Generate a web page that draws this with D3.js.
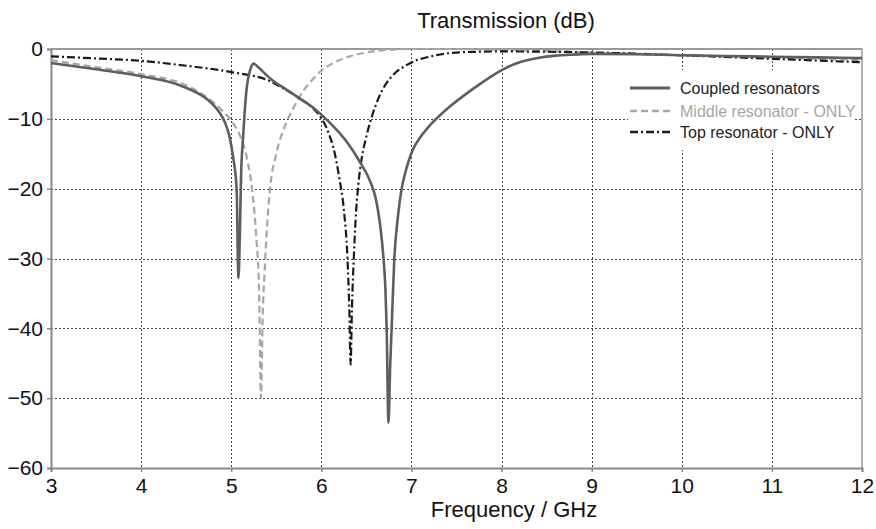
<!DOCTYPE html>
<html>
<head>
<meta charset="utf-8">
<script src="https://cdn.jsdelivr.net/npm/d3@7"></script>
<style>
  body { margin: 0; background: #fff; }
  text { font-family: "Liberation Sans", Arial, sans-serif; }
</style>
</head>
<body>
<div id="chart"></div>
<script>
// data (GHz, dB)
const coupledFreq = [3, 3.5, 4, 4.47, 4.76, 4.86, 4.93, 4.98, 5.02, 5.06, 5.08, 5.095, 5.11, 5.13, 5.17, 5.21, 5.25, 5.3, 5.38, 5.46, 5.6, 5.75, 5.9, 6.0, 6.15, 6.3, 6.42, 6.55, 6.6, 6.63, 6.66, 6.69, 6.71, 6.725, 6.745, 6.765, 6.78, 6.81, 6.85, 6.89, 6.93, 6.97, 7.02, 7.1, 7.2, 7.3, 7.45, 7.6, 7.75, 7.9, 8.05, 8.2, 8.4, 8.6, 8.8, 9, 9.5, 10, 10.5, 11, 11.5, 12];
const coupledDb   = [-2.0, -2.9, -3.9, -5.4, -7.5, -8.9, -10.5, -12.5, -15.4, -20, -32.8, -27, -17.8, -13, -5.8, -3.0, -2.1, -2.6, -3.6, -4.5, -5.7, -7.0, -8.3, -9.4, -11.3, -13.6, -16.0, -19.2, -21.2, -23.2, -26, -30, -34, -40, -53.5, -45, -40, -30, -24, -20.1, -17.8, -16.0, -14.3, -12.6, -11.0, -9.7, -8.0, -6.5, -5.1, -3.8, -2.7, -1.9, -1.3, -0.95, -0.8, -0.7, -0.75, -0.9, -1.0, -1.1, -1.2, -1.3];

const middleFreq = [3, 3.5, 4, 4.5, 4.76, 4.9, 5.02, 5.1, 5.17, 5.23, 5.28, 5.31, 5.33, 5.35, 5.37, 5.4, 5.43, 5.5, 5.61, 5.7, 5.8, 5.9, 6.0, 6.15, 6.3, 6.5, 6.7, 7, 7.5, 8, 8.5, 9, 10, 11, 12];
const middleDb   = [-1.6, -2.6, -3.6, -5.2, -7.2, -8.8, -10.6, -12.5, -15.4, -20, -27.3, -35, -50, -38, -32, -25, -20.1, -15, -10.6, -8.2, -6.0, -4.4, -3.1, -1.9, -1.1, -0.5, -0.15, 0, 0, -0.1, -0.3, -0.5, -0.9, -1.2, -1.6];

const topFreq = [3, 3.5, 4, 4.5, 5, 5.43, 5.6, 5.75, 5.9, 6.0, 6.08, 6.15, 6.2, 6.25, 6.29, 6.31, 6.325, 6.34, 6.36, 6.38, 6.41, 6.45, 6.5, 6.56, 6.62, 6.68, 6.75, 6.83, 6.92, 7.02, 7.2, 7.42, 7.7, 8, 9, 10, 11, 12];
const topDb   = [-1.05, -1.35, -1.7, -2.4, -3.3, -4.6, -5.8, -7.0, -8.4, -9.9, -12, -15, -18.5, -23, -30, -37, -45.2, -37, -30, -24.5, -19.5, -15.5, -12.5, -9.7, -7.5, -5.8, -4.4, -3.3, -2.5, -1.8, -1.1, -0.6, -0.4, -0.35, -0.5, -0.9, -1.4, -1.9];

const xTicks = [3, 4, 5, 6, 7, 8, 9, 10, 11, 12];
const yTicks = [0, -10, -20, -30, -40, -50, -60];

const seriesNames = ["Coupled resonators", "Middle resonator - ONLY", "Top resonator - ONLY"];

// set the dimensions and margins of the graph
let margin = {top: 49, right: 14, bottom: 61, left: 51},
    width = 876 - margin.left - margin.right,
    height = 529 - margin.top - margin.bottom;

let svg = d3.select("#chart")
  .append("svg")
    .attr("width", 876)
    .attr("height", 529)
  .append("g")
    .attr("transform", `translate(${margin.left}, ${margin.top})`);

const x = d3.scaleLinear().domain([3, 12]).range([0, width]);
const y = d3.scaleLinear().domain([-60, 0]).range([height, 0]);

// grid
const gridX = d => Math.round(x(d)) + 0.5;
const gridY = d => Math.round(y(d)) + 0.5;

svg.append("g")
  .selectAll("line")
  .data(xTicks.slice(1, -1))
  .join("line")
    .attr("x1", gridX).attr("x2", gridX)
    .attr("y1", 0).attr("y2", height)
    .attr("stroke", "#444")
    .attr("stroke-width", 1)
    .attr("stroke-dasharray", "2,2");

svg.append("g")
  .selectAll("line")
  .data(yTicks.slice(1, -1))
  .join("line")
    .attr("x1", 0).attr("x2", width)
    .attr("y1", gridY).attr("y2", gridY)
    .attr("stroke", "#444")
    .attr("stroke-width", 1)
    .attr("stroke-dasharray", "2,2");

// frame top / right
svg.append("line")
  .attr("x1", 0).attr("x2", width).attr("y1", 0).attr("y2", 0)
  .attr("stroke", "#999").attr("stroke-width", 2);
svg.append("line")
  .attr("x1", width).attr("x2", width).attr("y1", 0).attr("y2", height)
  .attr("stroke", "#999").attr("stroke-width", 1.5);

// axes
const xAxis = svg.append("g")
  .attr("transform", `translate(0, ${height})`)
  .call(d3.axisBottom(x).tickValues(xTicks).tickSize(4).tickPadding(6).tickFormat(d3.format("d")));
const yAxis = svg.append("g")
  .call(d3.axisLeft(y).tickValues(yTicks).tickSize(4).tickPadding(4).tickFormat(d3.format("d")));

[xAxis, yAxis].forEach(a => {
  a.select(".domain").attr("stroke", "#888").attr("stroke-width", 2);
  a.selectAll(".tick line").attr("stroke", "#888").attr("stroke-width", 1.5);
  a.selectAll(".tick text")
    .attr("fill", "#111")
    .style("font-size", "21px")
    .style("font-family", "'Liberation Sans', Arial, sans-serif");
});

const line = d3.line()
  .x(d => x(d[0]))
  .y(d => y(d[1]))
  .curve(d3.curveMonotoneX);

const styles = [
  {color: "#5e5e5e", width: 2.6, dash: null},
  {color: "#a6a6a6", width: 2.2, dash: "7,4"},
  {color: "#1a1a1a", width: 2.2, dash: "8,3,2,3"}
];

const series = [
  d3.zip(coupledFreq, coupledDb),
  d3.zip(middleFreq, middleDb),
  d3.zip(topFreq, topDb)
];

svg.append("clipPath").attr("id", "clip")
  .append("rect").attr("x", 0).attr("y", -2).attr("width", width).attr("height", height + 2);

// draw order: middle, top, coupled on top
[1, 2, 0].forEach(i => {
  svg.append("path")
    .datum(series[i])
    .attr("fill", "none")
    .attr("stroke", styles[i].color)
    .attr("stroke-width", styles[i].width)
    .attr("stroke-dasharray", styles[i].dash)
    .attr("stroke-linejoin", "round")
    .attr("clip-path", "url(#clip)")
    .attr("d", line);
});

// legend
const legend = svg.append("g");
legend.append("rect")
  .attr("x", 628 - margin.left).attr("y", 70 - margin.top)
  .attr("width", 225).attr("height", 80)
  .attr("fill", "#fff");

seriesNames.forEach((name, i) => {
  const ly = [88, 111, 132][i] - margin.top;
  legend.append("line")
    .attr("x1", 630 - margin.left).attr("x2", 670 - margin.left)
    .attr("y1", ly).attr("y2", ly)
    .attr("stroke", styles[i].color)
    .attr("stroke-width", i === 0 ? 3 : 2.6)
    .attr("stroke-dasharray", styles[i].dash);
  legend.append("text")
    .attr("x", 680 - margin.left)
    .attr("y", ly)
    .attr("dy", "0.35em")
    .attr("fill", i === 1 ? "#a6a6a6" : "#222")
    .style("font-size", "16px")
    .text(name);
});

// titles
svg.append("text")
  .attr("text-anchor", "middle")
  .attr("x", 506 - margin.left)
  .attr("y", 28 - margin.top)
  .attr("fill", "#111")
  .style("font-size", "22px")
  .text("Transmission (dB)");

svg.append("text")
  .attr("text-anchor", "middle")
  .attr("x", 514 - margin.left)
  .attr("y", 517 - margin.top)
  .attr("fill", "#111")
  .style("font-size", "22px")
  .text("Frequency / GHz");
</script>
</body>
</html>
